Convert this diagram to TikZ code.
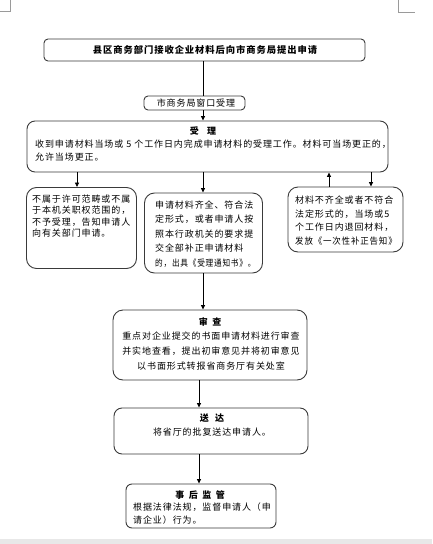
\documentclass[tikz,border=0pt]{standalone}
\usepackage{fontspec}
\setmainfont{Noto Sans CJK SC}[LetterSpace=10]
\usetikzlibrary{arrows.meta}
\definecolor{boxline}{HTML}{3A3A3A}
\definecolor{bandcol}{HTML}{E8E8E8}
\definecolor{cornercol}{HTML}{9A9A9A}
\tikzset{
  box/.style={draw=boxline, line width=0.9pt, rounded corners=#1, inner sep=0pt},
  box/.default=8pt,
  txt/.style={inner sep=0pt, font=\fontsize{9}{12}\selectfont},
  para/.style={txt, align=left, anchor=base west},
  ctr/.style={txt, align=center, anchor=base},
  arr/.style={line width=0.8pt, -{Triangle[length=4.5pt,width=4pt]}},
  ln/.style={line width=0.8pt},
  cornermark/.style={draw=cornercol, line width=0.6pt}
}
\begin{document}
\begin{tikzpicture}[x=1pt,y=-1pt]
\useasboundingbox (0,0) rectangle (432,544);
% page marks and band
\fill[bandcol] (0,539) rectangle (432,544);
\draw[cornermark] (0,11) -- (10,11) -- (10,0);
\draw[cornermark] (398,0) -- (398,12) -- (415,12);
% boxes
\node[box=4pt, minimum width=321pt, minimum height=22pt] (top) at (204.5,50) {};
\node[box=4pt, minimum width=101pt, minimum height=14pt] (win) at (194.5,103) {};
\node[box=8pt, minimum width=361pt, minimum height=51pt] (sl) at (207.5,146.5) {};
\node[box=10pt, minimum width=110pt, minimum height=81pt] (lb) at (81.5,228) {};
\node[box=10pt, minimum width=118pt, minimum height=80pt] (mb) at (203.5,233) {};
\node[box=10pt, minimum width=115pt, minimum height=65pt] (rb) at (345.5,219.5) {};
\node[box=10pt, minimum width=194pt, minimum height=70pt] (sc) at (210,345) {};
\node[box=8pt, minimum width=194pt, minimum height=46pt] (sd) at (211,431) {};
\node[box=6pt, minimum width=150pt, minimum height=44pt] (jg) at (201,506) {};
% texts
\node[ctr, font=\fontsize{9.3}{12}\selectfont\bfseries] (ttop) at (205,53.4) {县区商务部门接收企业材料后向市商务局提出申请};
\node[ctr] (twin) at (196,106.4) {市商务局窗口受理};
\node[ctr, font=\fontsize{9}{12}\selectfont\bfseries] (tsl) at (203,134.4) {受\hspace{0.9em}理};
\node[para, text width=360pt, font=\fontsize{9}{13}\selectfont] (psl) at (35,147.4) {收到申请材料当场或 5 个工作日内完成申请材料的受理工作。材料可当场更正的，\\允许当场更正。};
\node[para, text width=105pt, font=\fontsize{9}{11.5}\selectfont] (plb) at (32,202.4) {不属于许可范畴或不属\\于本机关职权范围的，\\不予受理，告知申请人\\向有关部门申请。};
\node[para, text width=110pt, font=\fontsize{9}{14.5}\selectfont] (pmb) at (155,208.4) {申请材料齐全、符合法\\定形式，或者申请人按\\照本行政机关的要求提\\交全部补正申请材料\\\scalebox{0.85}[1]{的，出具《受理通知书》。}};
\node[para, text width=110pt, font=\fontsize{9}{13.7}\selectfont] (prb) at (295,203.4) {材料不齐全或者不符合\\法定形式的，当场或5\\个工作日内退回材料，\\\scalebox{0.94}[1]{发放《一次性补正告知》}};
\node[ctr, font=\fontsize{9}{12}\selectfont\bfseries] (tsc) at (210,325.4) {审\hspace{0.5em}查};
\node[ctr, text width=192pt, font=\fontsize{9}{15}\selectfont] (psc) at (211,339.4) {重点对企业提交的书面申请材料进行审查\\并实地查看，提出初审意见并将初审意见\\以书面形式转报省商务厅有关处室};
\node[ctr, font=\fontsize{9}{12}\selectfont\bfseries] (tsd) at (212,421.4) {送\hspace{0.7em}达};
\node[ctr] (psd) at (212,435) {将省厅的批复送达申请人。};
\node[ctr, font=\fontsize{9}{12}\selectfont\bfseries] (tjg) at (200,498.4) {事\hspace{0.5em}后\hspace{0.5em}监\hspace{0.5em}管};
\node[para, text width=145pt, font=\fontsize{9}{12.7}\selectfont] (pjg) at (133,510.7) {根据法律法规，监督申请人（申\\请企业）行为。};
% connector x positions
\coordinate (xa) at (203,0);
\coordinate (xl) at (77,0);
\coordinate (xu) at (329,0);
\coordinate (xr) at (371,0);
\coordinate (xb) at (199,0);
% connectors
\draw[ln] (top.south -| xa) -- (win.north -| xa);
\draw[arr] (win.south -| xa) -- (sl.north -| xa);
\draw[arr] (sl.south -| xl) -- (lb.north -| xl);
\draw[arr] (sl.south -| xa) -- (mb.north -| xa);
\draw[arr] (rb.north -| xu) -- (sl.south -| xu);
\draw[arr] (sl.south -| xr) -- (rb.north -| xr);
\draw[arr] (mb.south -| xa) -- (sc.north -| xa);
\draw[arr] (sc.south -| xb) -- (sd.north -| xb);
\draw[arr] (sd.south -| xb) -- (jg.north -| xb);
\end{tikzpicture}
\end{document}
